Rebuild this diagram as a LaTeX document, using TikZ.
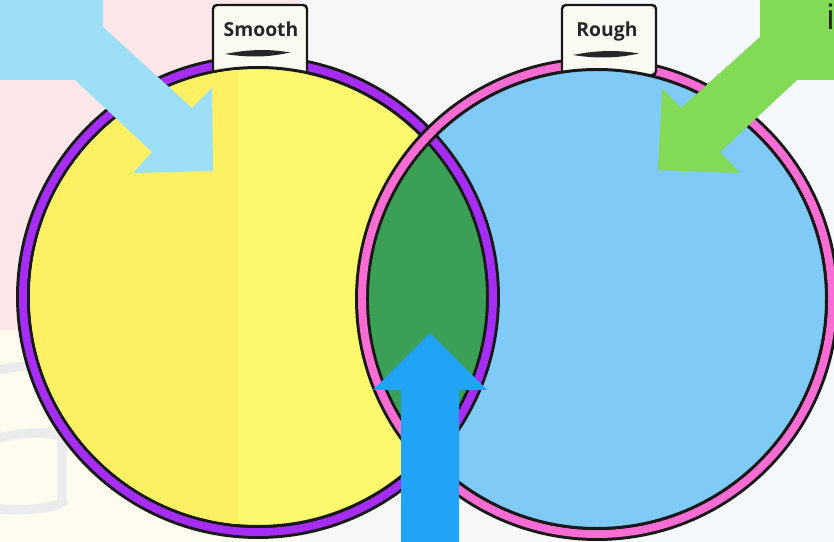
\documentclass[tikz,border=0pt]{standalone}
\usepackage{fontspec}
\setmainfont{Open Sans}
\definecolor{ringpurple}{HTML}{A52DF5}
\definecolor{ringpink}{HTML}{F96CD4}
\definecolor{smoothfill}{HTML}{FCF96C}
\definecolor{smoothdark}{HTML}{FDF163}
\definecolor{roughfill}{HTML}{80CAF7}
\definecolor{bothfill}{HTML}{3BA055}
\definecolor{tabfill}{HTML}{FBFAF2}
\definecolor{arrowsky}{HTML}{9CDFF6}
\definecolor{arrowlime}{HTML}{82DA57}
\definecolor{arrowblue}{HTML}{21A4F6}
\definecolor{bgpink}{HTML}{FDE7E8}
\definecolor{bgcream}{HTML}{FDFCEF}
\definecolor{bgblue}{HTML}{F5F9FD}
\begin{document}
\begin{tikzpicture}[x=0.03cm, y=-0.03cm,
  tab/.style={draw=black!90, rounded corners=3.4pt, line width=2.1pt, fill=tabfill, minimum width=2.82cm, minimum height=2.1cm},
  word/.style={font=\fontsize{16.5}{18}\selectfont\bfseries, text=black!85, inner sep=0pt, anchor=base},
  outerline/.style={draw=black!90, line width=11.9pt},
  innerline/.style={draw=black!90, line width=2.55pt}]
\useasboundingbox (0,0) rectangle (834,542);

% background
\fill[black!3] (0,0) rectangle (834,542);
\fill[bgpink] (0,0) rectangle (300,330);
\fill[bgcream] (0,330) rectangle (300,542);
\fill[bgblue] (600,0) rectangle (834,542);
\draw[line width=8pt, black!8] (-10,372) .. controls (30,362) and (80,362) .. (120,372);
\draw[line width=8pt, black!8] (-10,440) .. controls (20,432) and (50,430) .. (62,438) -- (62,505);
\draw[line width=8pt, black!8] (-10,508) .. controls (30,512) and (55,508) .. (66,500);

\coordinate (smoothc) at (258,297);
\coordinate (roughc) at (597,299);

% rings
\draw[outerline] (smoothc) circle[radius=235];
\draw[ringpurple, line width=6.8pt] (smoothc) circle[radius=235];
\draw[outerline] (roughc) circle[radius=235];
\draw[ringpink, line width=6.8pt] (roughc) circle[radius=235];

% tabs
\node (smoothtab) [tab] at (260,40) {};
\node (smoothlbl) [word] at (261,37) {Smooth};
\fill[black!85] (225,54) .. controls (250,49) and (270,49) .. (290,52.5) .. controls (270,57) and (250,58) .. cycle;
\node (roughtab) [tab] at (609,40) {};
\node (roughlbl) [word] at (607,37) {Rough};
\fill[black!85] (573,55) .. controls (598,50) and (618,50) .. (639,53.5) .. controls (618,58) and (598,59) .. cycle;

% fills
\filldraw[innerline, fill=smoothfill] (smoothc) circle[radius=229.5];
\begin{scope}
\clip (smoothc) circle[radius=228];
\fill[smoothdark] (0,0) rectangle (238,542);
\end{scope}
\filldraw[innerline, fill=roughfill] (roughc) circle[radius=229.5];
\begin{scope}
\clip (smoothc) circle[radius=229.5];
\fill[bothfill] (roughc) circle[radius=229.5];
\end{scope}

% rings over the overlap
\begin{scope}
\clip (smoothc) circle[radius=243];
\clip (roughc) circle[radius=243];
\draw[outerline] (smoothc) circle[radius=235];
\draw[ringpurple, line width=6.8pt] (smoothc) circle[radius=235];
\draw[outerline] (roughc) circle[radius=235];
\draw[ringpink, line width=6.8pt] (roughc) circle[radius=235];
\end{scope}

% arrows
\fill[arrowsky] (-5,-5) -- (103,-5) -- (103,27) -- (192,108) -- (212,88) -- (213,171)
  -- (133,173) -- (152,152) -- (75,80) -- (-5,80) -- cycle;
\fill[arrowlime] (760,-5) -- (840,-5) -- (840,80) -- (797,80) -- (720,152) -- (740,173)
  -- (658,170) -- (662,88) -- (681,108) -- (760,37) -- cycle;
\fill[arrowblue] (401,547) -- (401,390) -- (373,390) -- (430,333) -- (487,390)
  -- (459,390) -- (459,547) -- cycle;

\node (cornerlbl) [word, anchor=base west, font=\fontsize{30}{32}\selectfont] at (826,30) {i};
\end{tikzpicture}
\end{document}
